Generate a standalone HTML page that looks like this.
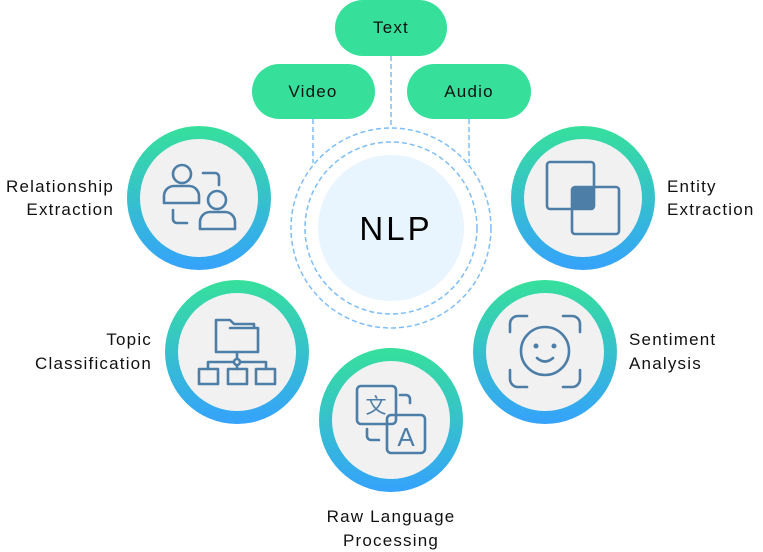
<!DOCTYPE html>
<html><head><meta charset="utf-8"><style>
html,body{margin:0;padding:0;background:#fff;width:763px;height:552px;overflow:hidden}
svg{display:block}
text{font-family:"Liberation Sans",sans-serif;font-size:17px;fill:#111;letter-spacing:1.2px}
</style></head><body>
<svg width="763" height="552" viewBox="0 0 763 552">
<defs>
<linearGradient id="g" x1="0" y1="0" x2="0" y2="1">
<stop offset="0" stop-color="#36e09b"/><stop offset="1" stop-color="#35a2fc"/>
</linearGradient>
</defs>
<g stroke="#7dbdf8" stroke-width="1.5" stroke-dasharray="5,3" fill="none">
<line x1="391" y1="56" x2="391" y2="128"/>
<line x1="313" y1="119" x2="313" y2="163"/>
<line x1="469" y1="119" x2="469" y2="163"/>
<circle cx="391" cy="228" r="86"/>
<circle cx="391" cy="228" r="100"/>
</g>
<circle cx="391" cy="228" r="73" fill="#e8f4fe"/>
<text x="396" y="240" text-anchor="middle" style="font-size:33px;fill:#000;letter-spacing:3px">NLP</text>
<g fill="#36e09b">
<rect x="335" y="0" width="112" height="56" rx="28"/>
<rect x="252" y="64" width="123" height="55" rx="27.5"/>
<rect x="407" y="64" width="124" height="55" rx="27.5"/>
</g>
<text x="391" y="33" text-anchor="middle">Text</text>
<text x="313" y="97" text-anchor="middle">Video</text>
<text x="469" y="97" text-anchor="middle">Audio</text>
<g>
<circle cx="199" cy="198" r="72" fill="url(#g)"/><circle cx="199" cy="198" r="59" fill="#f1f1f1"/>
<circle cx="583" cy="198" r="72" fill="url(#g)"/><circle cx="583" cy="198" r="59" fill="#f1f1f1"/>
<circle cx="237" cy="352" r="72" fill="url(#g)"/><circle cx="237" cy="352" r="59" fill="#f1f1f1"/>
<circle cx="545" cy="352" r="72" fill="url(#g)"/><circle cx="545" cy="352" r="59" fill="#f1f1f1"/>
<circle cx="391" cy="420" r="72" fill="url(#g)"/><circle cx="391" cy="420" r="59" fill="#f1f1f1"/>
</g>
<g stroke="#4d7ea8" stroke-width="2.6" fill="none" stroke-linecap="round" stroke-linejoin="round">
<circle cx="182" cy="174" r="9"/>
<path d="M164 203 V196 a10 10 0 0 1 10 -10 h15 a10 10 0 0 1 10 10 V203 Z"/>
<circle cx="217" cy="200" r="9"/>
<path d="M200 229 V222 a10 10 0 0 1 10 -10 h15 a10 10 0 0 1 10 10 V229 Z"/>
<path d="M203 173 h12 a4 4 0 0 1 4 4 v8"/>
<path d="M173 210 v9 a4 4 0 0 0 4 4 h10"/>
<rect x="547" y="162" width="47" height="47" rx="3"/>
<rect x="572" y="187" width="47" height="47" rx="3"/>
<path d="M216 352 V320 h14 l4 4 h20 v4 h4 v24 Z M230 328 h24"/>
<line x1="237" y1="352" x2="237" y2="359"/>
<circle cx="237" cy="362" r="3"/>
<path d="M208 369 v-7 h26 M240 362 h26 v7 M237 365 v4"/>
<rect x="199" y="369" width="19" height="15"/>
<rect x="228" y="369" width="19" height="15"/>
<rect x="256" y="369" width="19" height="15"/>
<path d="M510 332 v-8 a8 8 0 0 1 8 -8 h9 M563 316 h9 a8 8 0 0 1 8 8 v8 M580 370 v9 a8 8 0 0 1 -8 8 h-9 M527 387 h-9 a8 8 0 0 1 -8 -8 v-9"/>
<circle cx="545" cy="351" r="24"/>
<path d="M537 358 q8 7 16 0"/>
<rect x="357" y="386" width="39" height="38" rx="4"/>
<rect x="387" y="415" width="38" height="38" rx="4"/>
<path d="M400 395 h6 a4 4 0 0 1 4 4 v4 M367 429 v7 a4 4 0 0 0 4 4 h8"/>
</g>
<rect x="572" y="187" width="22" height="22" rx="2" fill="#4d7ea8"/>
<circle cx="536" cy="346" r="2.5" fill="#4d7ea8"/>
<circle cx="554" cy="346" r="2.5" fill="#4d7ea8"/>
<text x="376" y="413" text-anchor="middle" style="font-size:21px;fill:#4d7ea8;letter-spacing:0">文</text>
<text x="406" y="446" text-anchor="middle" style="font-size:26px;fill:#4d7ea8;letter-spacing:0">A</text>
<text x="114" y="192" text-anchor="end">Relationship</text>
<text x="114" y="215" text-anchor="end">Extraction</text>
<text x="667" y="192">Entity</text>
<text x="667" y="215">Extraction</text>
<text x="152" y="345" text-anchor="end">Topic</text>
<text x="152" y="369" text-anchor="end">Classification</text>
<text x="629" y="345">Sentiment</text>
<text x="629" y="369">Analysis</text>
<text x="391" y="522" text-anchor="middle">Raw Language</text>
<text x="391" y="546" text-anchor="middle">Processing</text>
</svg>
</body></html>
